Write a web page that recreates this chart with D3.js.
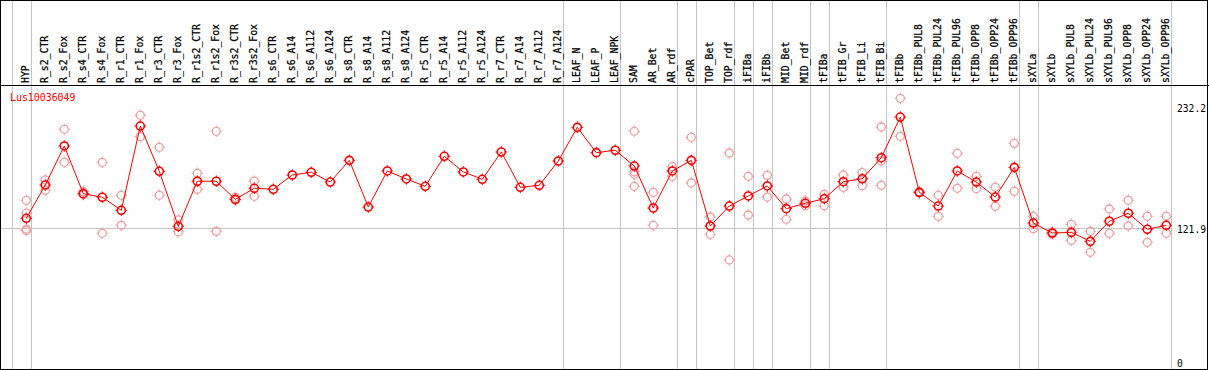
<!DOCTYPE html>
<html>
<head>
<meta charset="utf-8">
<script src="https://cdn.jsdelivr.net/npm/d3@7"></script>
<style>
  body { margin: 0; background: #fff; }
  text { font-family: "DejaVu Sans Mono", monospace; }
</style>
</head>
<body>
<script>
const w = 1209,
  h = 370;

const title = 'Lus10036049';

const categories = ['HYP', 'R_s2_CTR', 'R_s2_Fox', 'R_s4_CTR', 'R_s4_Fox', 'R_r1_CTR', 'R_r1_Fox',
  'R_r3_CTR', 'R_r3_Fox', 'R_r1s2_CTR', 'R_r1s2_Fox', 'R_r3s2_CTR', 'R_r3s2_Fox', 'R_s6_CTR',
  'R_s6_A14', 'R_s6_A112', 'R_s6_A124', 'R_s8_CTR', 'R_s8_A14', 'R_s8_A112', 'R_s8_A124',
  'R_r5_CTR', 'R_r5_A14', 'R_r5_A112', 'R_r5_A124', 'R_r7_CTR', 'R_r7_A14', 'R_r7_A112', 'R_r7_A124',
  'LEAF_N', 'LEAF_P', 'LEAF_NPK', 'SAM', 'AR_Bet', 'AR_rdf', 'cPAR', 'TOP_Bet', 'TOP_rdf',
  'iFIBa', 'iFIBb', 'MID_Bet', 'MID_rdf', 'tFIBa', 'tFIB_Gr', 'tFIB_Li', 'tFIB_Bi', 'tFIBb',
  'tFIBb_PUL8', 'tFIBb_PUL24', 'tFIBb_PUL96', 'tFIBb_OPP8', 'tFIBb_OPP24', 'tFIBb_OPP96',
  'sXYLa', 'sXYLb', 'sXYLb_PUL8', 'sXYLb_PUL24', 'sXYLb_PUL96', 'sXYLb_OPP8', 'sXYLb_OPP24', 'sXYLb_OPP96'];

// mean expression per sample
const means = [131.1, 161.5, 197.1, 153.6, 150.3, 138.4, 215.3, 174.0, 123.8, 164.9, 164.9, 148.4,
  158.5, 157.6, 170.6, 173.1, 164.2, 184.0, 141.4, 174.3, 167.0, 160.3, 187.7, 173.4, 166.7, 191.6,
  159.4, 161.2, 183.4, 214.1, 191.0, 193.2, 178.8, 140.5, 174.3, 184.0, 124.1, 142.3, 151.5, 160.6,
  139.9, 144.8, 149.0, 164.5, 167.2, 186.4, 223.5, 154.8, 142.3, 174.3, 164.2, 150.5, 177.6, 126.8,
  117.7, 118.3, 110.1, 128.4, 135.7, 121.1, 124.7];

// individual replicates (empty where only one value)
const replicates = [
  [147.5, 135.9, 121.3, 120.0], [166.1, 156.7], [212.3, 182.2], [155.4, 152.6], [182.2, 117.4],
  [152.1, 124.7], [225.1, 205.6], [195.9, 152.1], [129.6, 118.9], [172.2, 157.6], [210.5, 119.2],
  [150.3, 147.8], [165.1, 151.2],
  [], [], [], [], [], [], [], [], [], [], [], [], [], [], [], [], [], [], [],
  [210.5, 173.6, 171.3, 160.3], [154.8, 124.7], [178.2, 169.4], [205.0, 163.3], [132.3, 116.5],
  [190.7, 93.1], [169.4, 134.1], [170.3, 150.5], [148.7, 130.2], [146.9, 142.6], [153.0, 142.6],
  [170.6, 159.4], [172.7, 160.9], [214.4, 183.4, 161.2], [240.6, 205.9], [155.4, 154.2],
  [152.1, 132.9], [190.4, 158.5], [169.4, 158.1], [159.4, 142.1], [199.5, 155.7], [132.9, 121.6],
  [118.6, 116.8], [125.6, 111.0], [119.2, 100.1], [139.6, 117.4], [147.5, 124.1], [132.9, 109.2],
  [132.9, 117.4]];

// group separators drawn after these sample indices
const groupEnds = [-1, 0, 28, 31, 34, 35, 37, 38, 39, 41, 42, 45, 52, 53, 60];

const yTicks = [0, 121.9, 232.2];

const xScale = d3.scaleLinear()
  .domain([0, categories.length - 1])
  .range([26.3, 1166.3]);

const yScale = d3.scaleLinear()
  .domain([0, 232.2])
  .range([362, 107.5]);

const svg = d3.select('body')
  .append('svg')
  .attr('width', w)
  .attr('height', h);

// vertical separators
svg.selectAll('line.sep')
  .data(groupEnds)
  .enter()
  .append('line')
  .attr('x1', d => Math.round(xScale(d) + 4.4) + 0.5)
  .attr('x2', d => Math.round(xScale(d) + 4.4) + 0.5)
  .attr('y1', 0)
  .attr('y2', 369)
  .attr('stroke', '#c4c4c4');

// reference line
svg.append('line')
  .attr('x1', 1)
  .attr('x2', 1171)
  .attr('y1', Math.round(yScale(121.9)) + 0.5)
  .attr('y2', Math.round(yScale(121.9)) + 0.5)
  .attr('stroke', '#c4c4c4');

// frame
svg.append('rect')
  .attr('x', 0.5).attr('y', 0.5)
  .attr('width', 1207).attr('height', 369)
  .attr('fill', 'none')
  .attr('stroke', '#000');

svg.append('line')
  .attr('x1', 0).attr('x2', w)
  .attr('y1', 85.5).attr('y2', 85.5)
  .attr('stroke', '#000');

// sample labels
svg.selectAll('text.cat')
  .data(categories)
  .enter()
  .append('text')
  .attr('transform', (d, i) => `translate(${Math.round(xScale(i) + 3) - 0.3}, 83) rotate(-90)`)
  .attr('font-size', 11)
  .attr('stroke', '#000')
  .attr('stroke-width', 0.25)
  .attr('textLength', d => d.length * 5.9)
  .attr('lengthAdjust', 'spacingAndGlyphs')
  .text(d => d);

svg.append('text')
  .attr('x', 10)
  .attr('y', 101)
  .attr('font-size', 11)
  .attr('fill', 'red')
  .attr('textLength', title.length * 5.95)
  .attr('lengthAdjust', 'spacingAndGlyphs')
  .text(title);

svg.selectAll('text.tick')
  .data(yTicks)
  .enter()
  .append('text')
  .attr('x', 1177)
  .attr('y', d => yScale(d) + 4.5)
  .attr('font-size', 11)
  .attr('textLength', d => String(d).length * 5.8)
  .attr('lengthAdjust', 'spacingAndGlyphs')
  .text(d => d);

// gear-like marker
const marker = (g, color, sw) => {
  g.append('circle')
    .attr('r', 4)
    .attr('fill', 'none')
    .attr('stroke', color)
    .attr('stroke-width', sw);
  g.append('path')
    .attr('d', 'M0,-5.8V-4M0,4V5.8M-5.8,0H-4M4,0H5.8')
    .attr('stroke', color)
    .attr('stroke-width', 1);
};

const repPoints = [];
replicates.forEach((r, i) => r.forEach(v => repPoints.push([i, v])));

svg.selectAll('g.rep')
  .data(repPoints)
  .enter()
  .append('g')
  .attr('transform', d => `translate(${xScale(d[0])}, ${yScale(d[1])})`)
  .each(function() { marker(d3.select(this), '#f0a0a0', 1.3); });

const line = d3.line()
  .x((d, i) => xScale(i))
  .y(d => yScale(d));

svg.append('path')
  .datum(means)
  .attr('d', line)
  .attr('fill', 'none')
  .attr('stroke', 'red')
  .attr('stroke-width', 1);

svg.selectAll('g.mean')
  .data(means)
  .enter()
  .append('g')
  .attr('transform', (d, i) => `translate(${xScale(i)}, ${yScale(d)})`)
  .each(function() { marker(d3.select(this), 'red', 1.6); });
</script>
</body>
</html>
